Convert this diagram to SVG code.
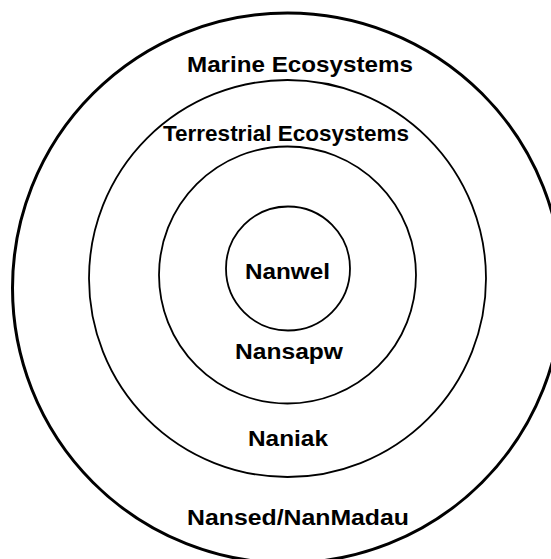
<svg xmlns="http://www.w3.org/2000/svg" width="551" height="559" viewBox="0 0 551 559">
<style>
.ring{fill:none;stroke:#000;stroke-width:1.8}
.outer{fill:none;stroke:#000;stroke-width:3}
.lbl{font-family:"Liberation Sans",Arial,sans-serif;font-weight:bold;font-size:22px;fill:#000}
</style>
<rect width="551" height="559" fill="#fff"/>
<g id="marine"><circle class="outer" cx="287.5" cy="288" r="275"/>
<text class="lbl" x="187" y="72" textLength="226" lengthAdjust="spacingAndGlyphs">Marine Ecosystems</text></g>
<g id="terrestrial"><circle class="ring" cx="287.5" cy="278.5" r="198.5"/>
<text class="lbl" x="163" y="141" textLength="246" lengthAdjust="spacingAndGlyphs">Terrestrial Ecosystems</text></g>
<g id="ring3"><circle class="ring" cx="287.5" cy="275" r="128.5"/></g>
<g id="nanwel"><circle class="ring" cx="288" cy="268.5" r="62"/>
<text class="lbl" x="245" y="279" textLength="85" lengthAdjust="spacingAndGlyphs">Nanwel</text></g>
<g id="nansapw"><text class="lbl" x="235" y="359" textLength="108" lengthAdjust="spacingAndGlyphs">Nansapw</text></g>
<g id="naniak"><text class="lbl" x="248" y="446" textLength="80" lengthAdjust="spacingAndGlyphs">Naniak</text></g>
<g id="nansed"><text class="lbl" x="187" y="525" textLength="222" lengthAdjust="spacingAndGlyphs">Nansed/NanMadau</text></g>
<g id="connectors"></g>
</svg>
